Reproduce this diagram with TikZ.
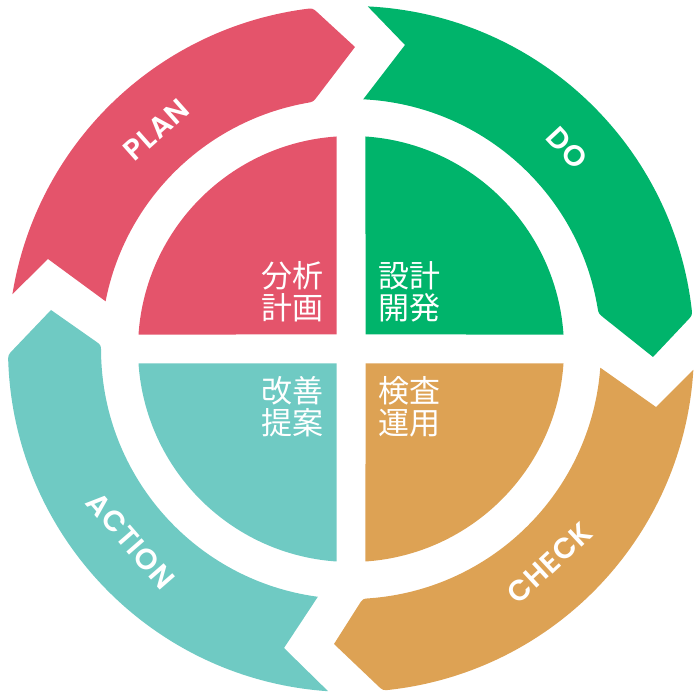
\documentclass[tikz,border=0pt]{standalone}
\usepackage{fontspec}
\usetikzlibrary{calc}
\newfontfamily\jpfont{Noto Sans CJK JP}
\newfontfamily\labfont{Poppins SemiBold}[LetterSpace=3]
\definecolor{cred}{RGB}{228,84,107}
\definecolor{cgreen}{RGB}{0,180,107}
\definecolor{corange}{RGB}{221,162,84}
\definecolor{cteal}{RGB}{111,202,195}
\def\Ro{343}
\def\Ri{250}
\def\Rq{213}
\def\g{14.5}
% #1 colour, #2 tail outer angle, #3 head outer angle, #4 tip, #5 head inner angle, #6 tail inner angle, #7 notch
\newcommand\ringarrow[7]{%
  \fill[#1] (#2:\Ro) arc[start angle=#2, end angle={#3+1.2}, radius=\Ro]
    .. controls (#3:\Ro) .. ($(#3:\Ro)!7pt!(#4)$) -- (#4)
    -- ($(#5:\Ri)!7pt!(#4)$) .. controls (#5:\Ri) .. ({#5+1.6}:\Ri)
    arc[start angle={#5+1.6}, end angle=#6, radius=\Ri] -- (#7) -- cycle;}
\tikzset{
  jtext/.style={text=white, inner sep=0pt, font=\jpfont\fontsize{31}{32}\selectfont},
  lab/.style={text=white, inner sep=0pt, font=\labfont\fontsize{29}{30}\selectfont},
}
\begin{document}
\begin{tikzpicture}[x=1pt,y=1pt]
\useasboundingbox (0,0) rectangle (700,700);
\begin{scope}[shift={(351,351)}]
% outer ring arrows
\ringarrow{cred}{170.8}{96.4}{4,302}{98.7}{169}{-303,90}
\ringarrow{cgreen}{87.2}{5.64}{302,-8}{8.16}{87.2}{54,304}
\ringarrow{corange}{-3.49}{-84.67}{-17,-295}{-87.3}{-4.29}{305,-58}
\ringarrow{cteal}{266.17}{181}{-300,39}{179.1}{262.38}{-67,-299}
% quadrants
\fill[cred] (-\g,\g) -- (93.9:\Rq) arc[start angle=93.9, end angle=176.1, radius=\Rq] -- cycle;
\fill[cgreen] (\g,\g) -- (86.1:\Rq) arc[start angle=86.1, end angle=3.9, radius=\Rq] -- cycle;
\fill[corange] (\g,-\g) -- (-3.9:\Rq) arc[start angle=-3.9, end angle=-86.1, radius=\Rq] -- cycle;
\fill[cteal] (-\g,-\g) -- (183.9:\Rq) arc[start angle=183.9, end angle=266.1, radius=\Rq] -- cycle;
% quadrant texts
\node[jtext, anchor=south east, align=right] (tplan) at (-27,27) {分析\\計画};
\node[jtext, anchor=south west, align=left] (tdo) at (27,27) {設計\\開発};
\node[jtext, anchor=north east, align=right] (tact) at (-27,-27) {改善\\提案};
\node[jtext, anchor=north west, align=left] (tchk) at (27,-27) {検査\\運用};
% ring labels
\node[lab, rotate=41.6] (plan) at (131.6:293) {PLAN};
\node[lab, rotate=-47.1] (do) at (42.9:295) {DO};
\node[lab, rotate=42.9] (check) at (-47.1:292) {CHECK};
\node[lab, rotate=-49] (action) at (221:292) {ACTION};
\end{scope}
\end{tikzpicture}
\end{document}
